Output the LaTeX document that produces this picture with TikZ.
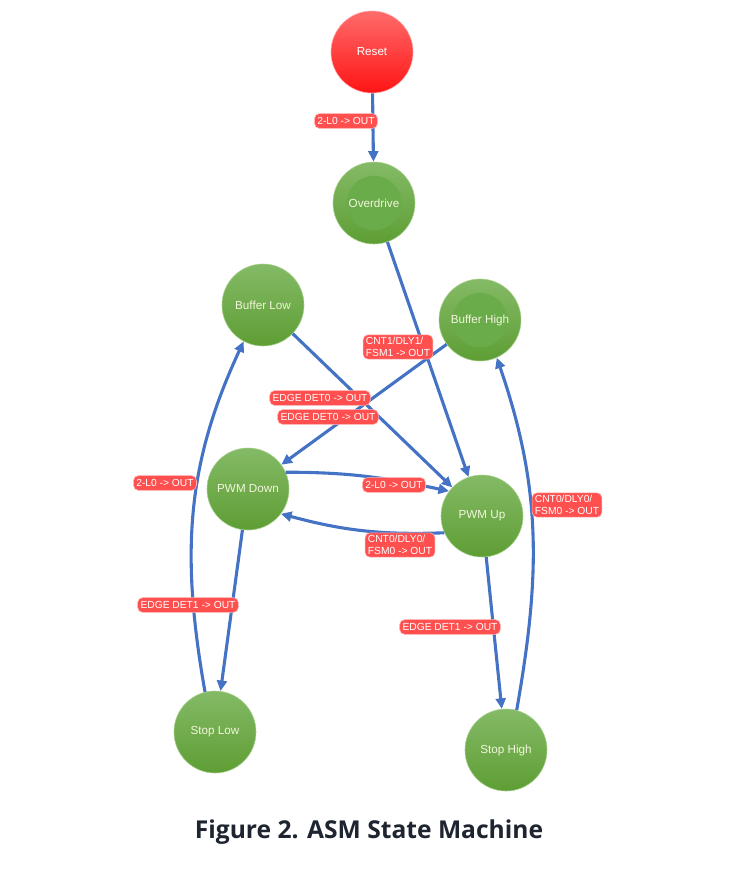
\documentclass[tikz,border=0pt]{standalone}
\usepackage{fontspec}
\setmainfont{Liberation Sans}
\newfontfamily\capfont{Open Sans}
\usetikzlibrary{arrows.meta}
\definecolor{EdgeBlue}{HTML}{4472C4}
\definecolor{StateTop}{HTML}{84BA66}
\definecolor{StateBot}{HTML}{5E9E34}
\definecolor{StateCore}{HTML}{6AAB4A}
\definecolor{StateRim}{HTML}{A9D190}
\definecolor{ResetTop}{HTML}{FF6B6B}
\definecolor{ResetBot}{HTML}{FF1414}
\definecolor{LabelRed}{HTML}{FF4F4F}
\definecolor{LabelRim}{HTML}{FFB3B3}
\definecolor{StateText}{HTML}{F2F6DC}
\definecolor{CapInk}{HTML}{1E2430}
\tikzset{
  state/.style={circle, draw=StateRim, line width=0.4pt, top color=StateTop, bottom color=StateBot, minimum size=2.05cm, inner sep=0pt, font=\fontsize{8.3}{9}\selectfont, text=StateText},
  corestate/.style={state, path picture={\fill[StateCore] (path picture bounding box.center) circle (0.68cm);}},
  resetstate/.style={state, draw=ResetTop!60!white, top color=ResetTop, bottom color=ResetBot, text=white},
  lbl/.style={draw=LabelRim, line width=0.4pt, fill=LabelRed, rounded corners=3.5pt, text=white, font=\fontsize{7.3}{8.8}\selectfont, align=left, inner xsep=2pt, inner ysep=1.6pt, minimum height=10.5pt},
  flowarrow/.style={-{Triangle[length=7.5pt, width=7pt]}, line width=2.2pt, draw=EdgeBlue},
  caption/.style={font=\capfont\bfseries\fontsize{17.5}{20}\selectfont, text=CapInk},
}

\begin{document}
\begin{tikzpicture}[x=0.025cm, y=0.025cm]
    \useasboundingbox (0,0) rectangle (736,-870);
    \node[resetstate] (reset) at (372,-52) {Reset};
    \node[corestate] (overdrive) at (374,-203) {Overdrive};
    \node[state] (buflow) at (263,-305) {Buffer Low};
    \node[corestate] (bufhigh) at (480,-320) {Buffer High};
    \node[state] (pwmdown) at (248,-489) {PWM Down};
    \node[state] (pwmup) at (482,-516) {PWM Up};
    \node[state] (stoplow) at (215,-732) {Stop Low};
    \node[state] (stophigh) at (506,-750) {Stop High};
    \draw[flowarrow] (reset) -- (overdrive);
    \draw[flowarrow] (overdrive) -- (pwmup);
    \draw[flowarrow] (buflow) -- (pwmup);
    \draw[flowarrow] (bufhigh) -- (pwmdown);
    \draw[flowarrow] (pwmdown.24) to[out=0, in=168] (pwmup.143);
    \draw[flowarrow] (pwmup.204) to[out=182, in=-15] (pwmdown.323);
    \draw[flowarrow] (pwmdown) -- (stoplow);
    \draw[flowarrow] (stoplow.104) to[out=100, in=245] (buflow.242);
    \draw[flowarrow] (pwmup) -- (stophigh);
    \draw[flowarrow] (stophigh.75) to[out=80, in=-71] (bufhigh.294);
    \node[lbl] (lreset) at (346,-121) {2-L0 -> OUT};
    \node[lbl] (lover) at (398,-347) {CNT1/DLY1/\\FSM1 -> OUT};
    \node[lbl] (ldeta) at (320,-398) {EDGE DET0 -> OUT};
    \node[lbl] (ldetb) at (328,-417) {EDGE DET0 -> OUT};
    \node[lbl] (ldownup) at (394,-485) {2-L0 -> OUT};
    \node[lbl] (lupdown) at (400,-545) {CNT0/DLY0/\\FSM0 -> OUT};
    \node[lbl] (lstoplow) at (165,-483) {2-L0 -> OUT};
    \node[lbl] (ldetlow) at (188,-605) {EDGE DET1 -> OUT};
    \node[lbl] (ldethigh) at (450,-627) {EDGE DET1 -> OUT};
    \node[lbl] (lstophigh) at (567,-505) {CNT0/DLY0/\\FSM0 -> OUT};
    \node[caption] (cap) at (369,-832) {Figure 2. ASM State Machine};
  \end{tikzpicture}
\end{document}
